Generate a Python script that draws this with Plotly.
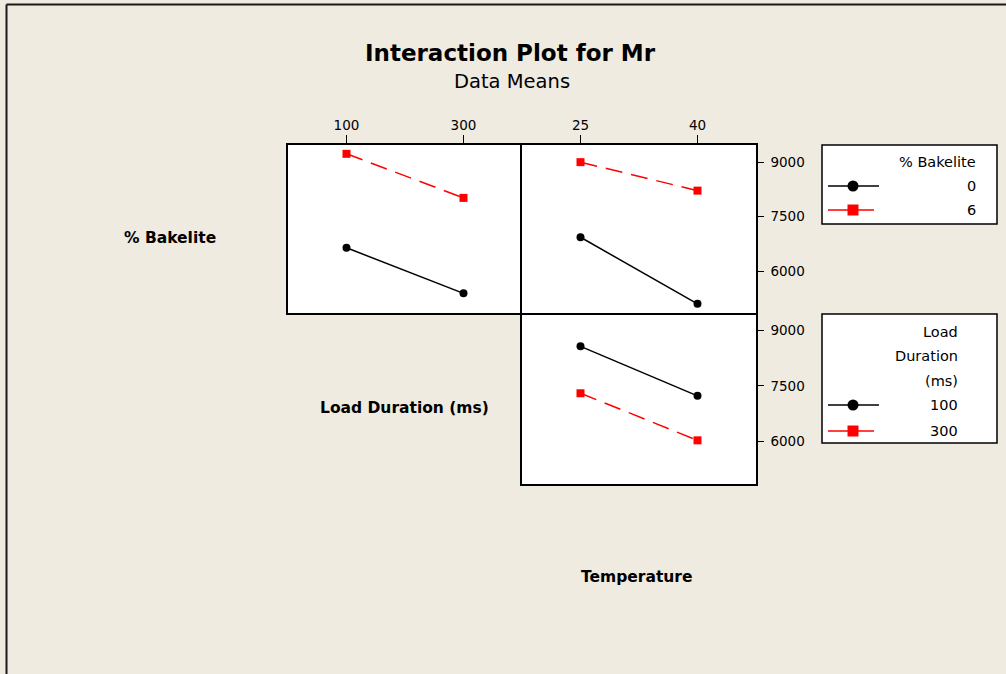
import plotly.graph_objects as go

# ---------------- data ----------------
load_levels = [100, 300]
temp_levels = [25, 40]
bakelite_labels = ["0", "6"]
load_labels = ["100", "300"]

mr_b0_vs_load = [6640, 5385]
mr_b6_vs_load = [9230, 8015]
mr_b0_vs_temp = [6930, 5095]
mr_b6_vs_temp = [9000, 8215]
mr_l100_vs_temp = [8570, 7230]
mr_l300_vs_temp = [7300, 6025]

y_ticks = [6000, 7500, 9000]

# ---------------- geometry helpers ----------------
W, H = 1006, 674
BG = "#EFEBE0"
FONT = "DejaVu Sans"


def px(x):
    return x / W


def py(y):
    return 1 - y / H


YR = [4843, 9473]

fig = go.Figure()

black_line = dict(color="black", width=1.5)
red_line = dict(color="#FF0000", width=1.5, dash="17px,9px")
black_mk = dict(symbol="circle", size=8, color="black")
red_mk = dict(symbol="square", size=8, color="#FF0000")

# top-left: x = Load Duration, traces = % Bakelite
fig.add_trace(go.Scatter(x=load_levels, y=mr_b0_vs_load, mode="lines+markers",
                         line=black_line, marker=black_mk, xaxis="x", yaxis="y",
                         name="0", showlegend=False))
fig.add_trace(go.Scatter(x=load_levels, y=mr_b6_vs_load, mode="lines+markers",
                         line=red_line, marker=red_mk, xaxis="x", yaxis="y",
                         name="6", showlegend=False))
# top-right: x = Temperature, traces = % Bakelite
fig.add_trace(go.Scatter(x=temp_levels, y=mr_b0_vs_temp, mode="lines+markers",
                         line=black_line, marker=black_mk, xaxis="x2", yaxis="y2",
                         name="0", showlegend=False))
fig.add_trace(go.Scatter(x=temp_levels, y=mr_b6_vs_temp, mode="lines+markers",
                         line=red_line, marker=red_mk, xaxis="x2", yaxis="y2",
                         name="6", showlegend=False))
# bottom-right: x = Temperature, traces = Load Duration
fig.add_trace(go.Scatter(x=temp_levels, y=mr_l100_vs_temp, mode="lines+markers",
                         line=black_line, marker=black_mk, xaxis="x3", yaxis="y3",
                         name="100", showlegend=False))
fig.add_trace(go.Scatter(x=temp_levels, y=mr_l300_vs_temp, mode="lines+markers",
                         line=red_line, marker=red_mk, xaxis="x3", yaxis="y3",
                         name="300", showlegend=False))

axis_common = dict(showgrid=False, zeroline=False, showline=True, linecolor="black",
                   linewidth=1.5, mirror=True, automargin=False,
                   tickfont=dict(family=FONT, size=13.5, color="black"),
                   tickcolor="black", tickwidth=1.2)

top_y = [py(313), py(145)]
bot_y = [py(484), py(313)]
left_x = [px(288), px(522)]
right_x = [px(522), px(756)]

fig.update_layout(
    xaxis=dict(axis_common, domain=left_x, anchor="y", range=[0, 400], side="top",
               tickvals=load_levels, ticks="outside", ticklen=8),
    yaxis=dict(axis_common, domain=top_y, anchor="x", range=YR, showticklabels=False,
               ticks="", mirror=False),
    xaxis2=dict(axis_common, domain=right_x, anchor="y2", range=[17.5, 47.5], side="top",
                tickvals=temp_levels, ticks="outside", ticklen=8),
    yaxis2=dict(axis_common, domain=top_y, anchor="x2", range=YR, side="right",
                tickvals=y_ticks, ticks="outside", ticklen=6, ticklabelstandoff=4),
    xaxis3=dict(axis_common, domain=right_x, anchor="y3", range=[17.5, 47.5],
                showticklabels=False, ticks="", mirror=False),
    yaxis3=dict(axis_common, domain=bot_y, anchor="x3", range=YR, side="right",
                tickvals=y_ticks, ticks="outside", ticklen=6, ticklabelstandoff=4),
)

annotations = []
shapes = []

# titles
annotations.append(dict(text="<b>Interaction Plot for Mr</b>", x=px(510), y=py(53),
                        xref="paper", yref="paper", showarrow=False,
                        xanchor="center", yanchor="middle",
                        font=dict(family=FONT, size=23, color="black")))
annotations.append(dict(text="Data Means", x=px(512), y=py(82),
                        xref="paper", yref="paper", showarrow=False,
                        xanchor="center", yanchor="middle",
                        font=dict(family=FONT, size=19.5, color="black")))

# row / column labels
for txt, x, y in [("% Bakelite", 170, 238), ("Load Duration (ms)", 404, 408),
                  ("Temperature", 637, 577)]:
    annotations.append(dict(text="<b>" + txt + "</b>", x=px(x), y=py(y),
                            xref="paper", yref="paper", showarrow=False,
                            xanchor="center", yanchor="middle",
                            font=dict(family=FONT, size=15.5, color="black")))

# legends (drawn manually)
legend_font = dict(family=FONT, size=14.5, color="black")


def legend_box(x0, y0, x1, y1):
    shapes.append(dict(type="rect", xref="paper", yref="paper",
                       x0=px(x0), x1=px(x1), y0=py(y1), y1=py(y0),
                       line=dict(color="black", width=1.5), fillcolor="white",
                       layer="below"))


def legend_entry(y, text, red, right):
    color = "#FF0000" if red else "black"
    x0, x1 = (828, 874) if red else (828, 879)
    shapes.append(dict(type="line", xref="paper", yref="paper",
                       x0=px(x0), x1=px(x1), y0=py(y), y1=py(y),
                       line=dict(color=color, width=1.5)))
    r = 5.5
    shapes.append(dict(type="rect" if red else "circle", xref="paper", yref="paper",
                       x0=px(853 - r), x1=px(853 + r), y0=py(y + r), y1=py(y - r),
                       line=dict(color=color, width=0), fillcolor=color))
    annotations.append(dict(text=text, x=px(right), y=py(y), xref="paper", yref="paper",
                            showarrow=False, xanchor="right", yanchor="middle",
                            font=legend_font))


legend_box(822, 145, 997, 224)
annotations.append(dict(text="% Bakelite", x=px(978), y=py(162), xref="paper",
                        yref="paper", showarrow=False, xanchor="right",
                        yanchor="middle", font=legend_font))
legend_entry(186, bakelite_labels[0], False, 978)
legend_entry(210, bakelite_labels[1], True, 978)

legend_box(822, 314, 997, 443)
for txt, y in [("Load", 332), ("Duration", 356), ("(ms)", 381)]:
    annotations.append(dict(text=txt, x=px(960), y=py(y), xref="paper",
                            yref="paper", showarrow=False, xanchor="right",
                            yanchor="middle", font=legend_font))
legend_entry(405, load_labels[0], False, 960)
legend_entry(431, load_labels[1], True, 960)

# outer frame (left and top edges)
shapes.append(dict(type="line", xref="paper", yref="paper", x0=px(6.5), x1=px(1006),
                   y0=py(4.5), y1=py(4.5), line=dict(color="#1a1a1a", width=2)))
shapes.append(dict(type="line", xref="paper", yref="paper", x0=px(6.5), x1=px(6.5),
                   y0=py(4.5), y1=py(674), line=dict(color="#1a1a1a", width=2)))

fig.update_layout(
    template="none",
    width=W, height=H,
    margin=dict(l=0, r=0, t=0, b=0, pad=0),
    paper_bgcolor=BG,
    plot_bgcolor="white",
    showlegend=False,
    annotations=annotations,
    shapes=shapes,
    font=dict(family=FONT, color="black"),
)

fig.write_html("out.html")
